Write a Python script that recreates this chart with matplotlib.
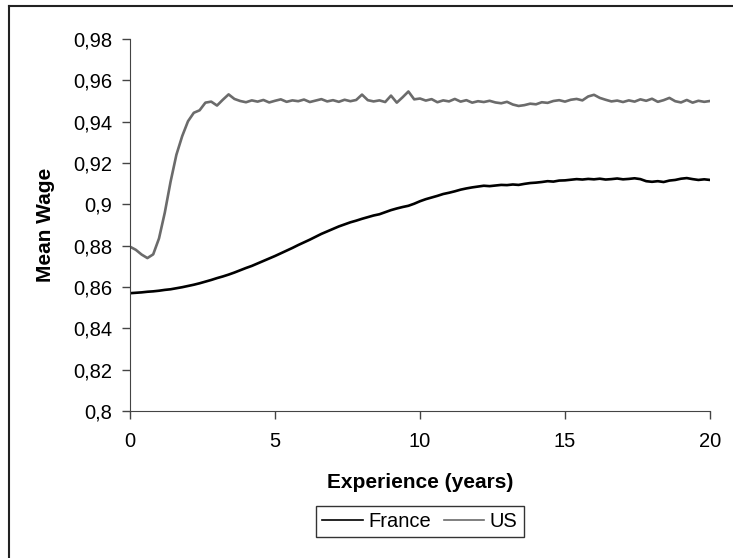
import numpy as np
import matplotlib
matplotlib.use("Agg")
import matplotlib.pyplot as plt
from matplotlib.lines import Line2D

plt.rcParams['font.family'] = ['Liberation Sans', 'DejaVu Sans']

# experience in years, step 0.2
experience = np.round(np.arange(0, 20.01, 0.2), 1)

france = [
    0.8570, 0.8572, 0.8574, 0.8577, 0.8579, 0.8582, 0.8586, 0.8589, 0.8594, 0.8599,
    0.8605, 0.8611, 0.8618, 0.8626, 0.8634, 0.8643, 0.8651, 0.8660, 0.8670, 0.8681,
    0.8692, 0.8702, 0.8714, 0.8726, 0.8738, 0.8750, 0.8763, 0.8776, 0.8789, 0.8803,
    0.8816, 0.8829, 0.8843, 0.8857, 0.8869, 0.8881, 0.8893, 0.8903, 0.8913, 0.8921,
    0.8930, 0.8938, 0.8946, 0.8952, 0.8962, 0.8972, 0.8980, 0.8987, 0.8993, 0.9003,
    0.9015, 0.9025, 0.9033, 0.9041, 0.9050, 0.9056, 0.9063, 0.9071, 0.9077, 0.9082,
    0.9086, 0.9090, 0.9088, 0.9091, 0.9094, 0.9093, 0.9096, 0.9094, 0.9099, 0.9103,
    0.9105, 0.9108, 0.9112, 0.9110, 0.9115, 0.9116, 0.9119, 0.9122, 0.9120, 0.9123,
    0.9121, 0.9124, 0.9120, 0.9122, 0.9125, 0.9121, 0.9123, 0.9126, 0.9122, 0.9112,
    0.9109, 0.9112, 0.9108, 0.9115, 0.9118, 0.9124, 0.9127, 0.9122, 0.9118, 0.9121,
    0.9118,
]

us = [
    0.8795, 0.8780, 0.8757, 0.8740, 0.8758, 0.8835, 0.8960, 0.9110, 0.9240, 0.9330,
    0.9402, 0.9443, 0.9455, 0.9492, 0.9497, 0.9478, 0.9506, 0.9532, 0.9510, 0.9500,
    0.9494, 0.9503, 0.9497, 0.9505, 0.9493, 0.9501, 0.9508, 0.9496, 0.9503, 0.9499,
    0.9507, 0.9495, 0.9502, 0.9509, 0.9498, 0.9504, 0.9496, 0.9506, 0.9499, 0.9505,
    0.9531, 0.9504, 0.9498, 0.9503, 0.9495, 0.9526, 0.9492, 0.9518, 0.9546, 0.9508,
    0.9512, 0.9502, 0.9509, 0.9494, 0.9503, 0.9498, 0.9510, 0.9497, 0.9504, 0.9492,
    0.9499, 0.9495, 0.9501, 0.9493, 0.9489, 0.9496, 0.9483, 0.9476, 0.9480, 0.9487,
    0.9484, 0.9494, 0.9491, 0.9500, 0.9504, 0.9497, 0.9506, 0.9510, 0.9503, 0.9522,
    0.9530, 0.9515, 0.9506, 0.9498, 0.9502, 0.9495, 0.9503, 0.9497, 0.9508, 0.9501,
    0.9511, 0.9496, 0.9504, 0.9515, 0.9499, 0.9493, 0.9505, 0.9492, 0.9501, 0.9496,
    0.9500,
]

fig = plt.figure(figsize=(7.33, 5.58), dpi=100)
ax = fig.add_axes([130/733, 1 - 411/558, 580/733, 372/558])

ax.plot(experience, france, color='black', lw=1.9, label='France')
ax.plot(experience, us, color='#6b6b6b', lw=1.9, label='US')

ax.set_xlim(0, 20)
ax.set_ylim(0.8, 0.98)
ax.set_xticks([0, 5, 10, 15, 20])
ax.set_yticks(np.round(np.arange(0.8, 0.981, 0.02), 2))
ax.set_yticklabels([('%g' % v).replace('.', ',') for v in ax.get_yticks()])
ax.tick_params(direction='out', length=6, width=1, labelsize=14.5, color='#444444')
ax.tick_params(axis='y', pad=7)
ax.tick_params(axis='x', pad=9)
ax.spines['top'].set_visible(False)
ax.spines['right'].set_visible(False)
ax.spines['left'].set_color('#444444')
ax.spines['bottom'].set_color('#444444')

ax.set_xlabel('Experience (years)', fontsize=15, fontweight='bold', labelpad=16)
ax.set_ylabel('Mean Wage', fontsize=15, fontweight='bold', labelpad=13)

leg = ax.legend(loc='upper center', bbox_to_anchor=(0.5, -0.255), ncol=2,
                fontsize=14.5, frameon=True, fancybox=False, handlelength=2.0,
                handletextpad=0.3, columnspacing=0.6, borderpad=0.3, borderaxespad=0)
leg.get_frame().set_edgecolor('black')
leg.get_frame().set_linewidth(1)
for h in leg.get_lines():
    h.set_linewidth(1.2)

# outer chart frame (left and top edges visible)
fig.add_artist(Line2D([8.5/733, 8.5/733], [0, 1 - 6/558], color='#222222', lw=1.5))
fig.add_artist(Line2D([8.5/733, 1], [1 - 6/558, 1 - 6/558], color='#222222', lw=1.5))

fig.savefig('out.png', dpi=100)
